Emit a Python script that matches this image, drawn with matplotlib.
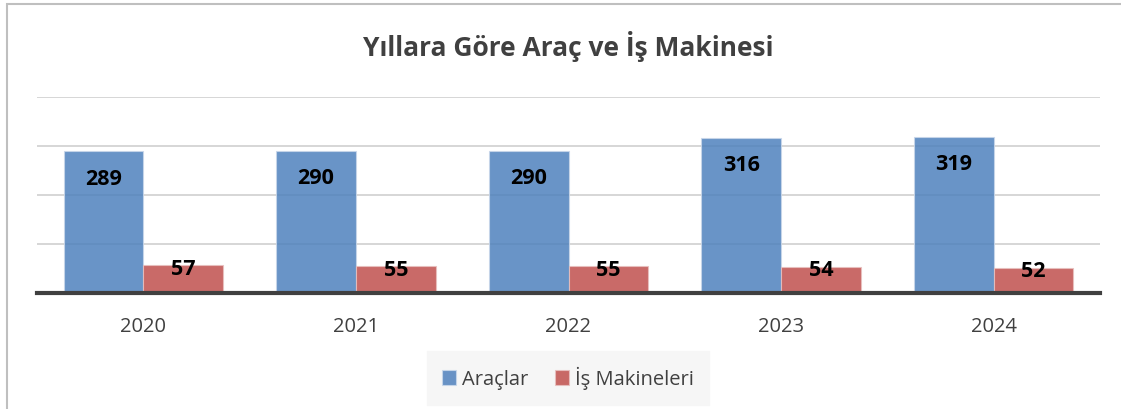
import matplotlib
matplotlib.use('Agg')
import matplotlib.pyplot as plt
from matplotlib.patches import Rectangle
import numpy as np

years = ['2020', '2021', '2022', '2023', '2024']
araclar = [289, 290, 290, 316, 319]
is_makineleri = [57, 55, 55, 54, 52]

blue = '#4F81BD'
red = '#C0504D'
text_gray = '#404040'

plt.rcParams['font.family'] = ['Open Sans', 'DejaVu Sans']

W, H = 1121, 409
fig = plt.figure(figsize=(W / 100, H / 100), dpi=100)

# axes box in pixel terms
left, right, top, bottom = 37, 1100, 97, 293
ax = fig.add_axes([left / W, 1 - bottom / H, (right - left) / W, (bottom - top) / H])

x = np.arange(len(years))
w = 0.375
b1 = ax.bar(x - w / 2, araclar, w, color=blue, alpha=0.85,
            edgecolor='#c9d7ea', linewidth=0.8, zorder=2, label='Araçlar')
b2 = ax.bar(x + w / 2, is_makineleri, w, color=red, alpha=0.85,
            edgecolor='#e8c0bf', linewidth=0.8, zorder=2, label='İş Makineleri')

ax.set_ylim(0, 400)
ax.set_xlim(-0.5, len(years) - 0.5)
ax.set_yticks([100, 200, 300, 400])
ax.yaxis.grid(True, color='#d0d0d0', linewidth=1.2, zorder=1)
ax.set_axisbelow(True)
ax.tick_params(axis='y', left=False, labelleft=False)
ax.tick_params(axis='x', length=0, pad=17, labelsize=14.5, labelcolor=text_gray)
ax.set_xticks(x)
ax.set_xticklabels(years)
for s in ['top', 'right', 'left']:
    ax.spines[s].set_visible(False)
ax.spines['bottom'].set_color('#404040')
ax.spines['bottom'].set_linewidth(3)
ax.spines['bottom'].set_zorder(3)

for rect, v in zip(b1, araclar):
    ax.annotate(str(v), (rect.get_x() + rect.get_width() / 2, v),
                xytext=(0, -20), textcoords='offset points',
                ha='center', va='center', fontsize=15.5, fontweight='bold',
                color='black', zorder=4)
for rect, v in zip(b2, is_makineleri):
    ax.annotate(str(v), (rect.get_x() + rect.get_width() / 2, v),
                xytext=(0, -3), textcoords='offset points',
                ha='center', va='center', fontsize=15.5, fontweight='bold',
                color='black', zorder=4)

fig.text(568 / W, 1 - 46 / H, 'Yıllara Göre Araç ve İş Makinesi',
         ha='center', va='center', fontsize=19, fontweight='bold', color=text_gray)

leg = fig.legend(loc='center', bbox_to_anchor=(568 / W, 1 - 378 / H),
                 ncol=2, frameon=True, fontsize=14.5, handlelength=0.7,
                 handleheight=0.7, handletextpad=0.3, columnspacing=1.3,
                 borderpad=0.75)
leg.get_frame().set_facecolor('#f6f6f6')
leg.get_frame().set_edgecolor('#f6f6f6')
leg.get_frame().set_alpha(1)
leg.get_frame().set_boxstyle('square', pad=0)
for t in leg.get_texts():
    t.set_color(text_gray)

# chart border
fig.patches.append(Rectangle((7 / W, -0.05), 1.2, 1 - 4 / H + 0.05,
                             transform=fig.transFigure, fill=False,
                             edgecolor='#bfbfbf', linewidth=1.5))

fig.savefig('out.png', dpi=100)
